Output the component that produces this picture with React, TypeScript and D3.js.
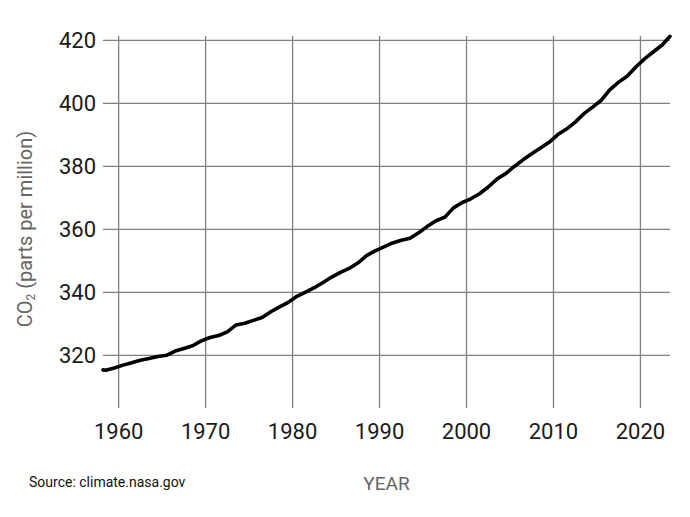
import React from "react";
import * as d3 from "d3";

const years: number[] = [
  1958.2, 1958.5, 1959.5, 1960.5, 1961.5, 1962.5, 1963.5, 1964.5, 1965.5, 1966.5, 1967.5,
  1968.5, 1969.5, 1970.5, 1971.5, 1972.5, 1973.5, 1974.5, 1975.5, 1976.5, 1977.5,
  1978.5, 1979.5, 1980.5, 1981.5, 1982.5, 1983.5, 1984.5, 1985.5, 1986.5, 1987.5,
  1988.5, 1989.5, 1990.5, 1991.5, 1992.5, 1993.5, 1994.5, 1995.5, 1996.5, 1997.5,
  1998.5, 1999.5, 2000.5, 2001.5, 2002.5, 2003.5, 2004.5, 2005.5, 2006.5, 2007.5,
  2008.5, 2009.5, 2010.5, 2011.5, 2012.5, 2013.5, 2014.5, 2015.5, 2016.5, 2017.5,
  2018.5, 2019.5, 2020.5, 2021.5, 2022.5, 2023.4,
];
const co2: number[] = [
  315.4, 315.3, 315.98, 316.91, 317.64, 318.45, 318.99, 319.62, 320.04, 321.37, 322.18,
  323.05, 324.62, 325.68, 326.32, 327.46, 329.68, 330.19, 331.12, 332.03, 333.84,
  335.41, 336.84, 338.76, 340.12, 341.48, 343.15, 344.87, 346.35, 347.61, 349.31,
  351.69, 353.2, 354.45, 355.7, 356.54, 357.21, 358.96, 360.97, 362.74, 363.88,
  366.84, 368.54, 369.71, 371.32, 373.45, 375.98, 377.7, 379.98, 382.09, 384.02,
  385.83, 387.64, 390.1, 391.85, 394.06, 396.74, 398.81, 401.01, 404.41, 406.76,
  408.72, 411.65, 414.21, 416.41, 418.53, 421.3,
];
const xTicks: number[] = [1960, 1970, 1980, 1990, 2000, 2010, 2020];
const yTicks: number[] = [320, 340, 360, 380, 400, 420];
const yTitle = "CO";
const yTitleSub = "2";
const yTitleRest = " (parts per million)";
const xTitle = "YEAR";
const sourceText = "Source: climate.nasa.gov";

export default function App() {
  const W = 690;
  const H = 517;
  const left = 103, right = 670, top = 36, bottom = 408;
  const x = d3.scaleLinear().domain([1958.2, 2023.4]).range([left, right]);
  const y = d3.scaleLinear().domain([303.3, 421.4]).range([bottom, top]);
  const pts: [number, number][] = years.map((yr, i) => [yr, co2[i]]);
  const line = d3
    .line<[number, number]>()
    .x((d) => x(d[0]))
    .y((d) => y(d[1]))
    .curve(d3.curveLinear);
  const font = "Roboto, 'Noto Sans', sans-serif";
  return (
    <svg
      width={W}
      height={H}
      style={{ position: "absolute", left: 0, top: 0, background: "#fff" }}
      fontFamily={font}
    >
      <rect x={0} y={0} width={W} height={H} fill="#fff" />
      {yTicks.map((t) => (
        <g key={"y" + t}>
          <line x1={left} x2={right} y1={y(t)} y2={y(t)} stroke="#808080" strokeWidth={1.3} />
          <text x={96} y={y(t)} dy="0.36em" textAnchor="end" fontSize={22} fill="#1a1a1a">
            {t}
          </text>
        </g>
      ))}
      {xTicks.map((t) => (
        <g key={"x" + t}>
          <line x1={x(t)} x2={x(t)} y1={top} y2={bottom} stroke="#808080" strokeWidth={1.3} />
          <text x={x(t)} y={439} textAnchor="middle" fontSize={22} fill="#1a1a1a">
            {t}
          </text>
        </g>
      ))}
      <path
        d={line(pts) || ""}
        fill="none"
        stroke="#000"
        strokeWidth={3.6}
        strokeLinejoin="round"
        strokeLinecap="round"
      />
      <text
        transform={`translate(32,229) rotate(-90)`}
        textAnchor="middle"
        fontSize={20}
        fill="#666"
      >
        {yTitle}
        <tspan fontSize={12} dy={3}>
          {yTitleSub}
        </tspan>
        <tspan dy={-3}>{yTitleRest}</tspan>
      </text>
      <text x={386.5} y={490} textAnchor="middle" fontSize={19} fill="#666">
        {xTitle}
      </text>
      <text x={29} y={487} fontSize={14} fill="#111">
        {sourceText}
      </text>
    </svg>
  );
}
